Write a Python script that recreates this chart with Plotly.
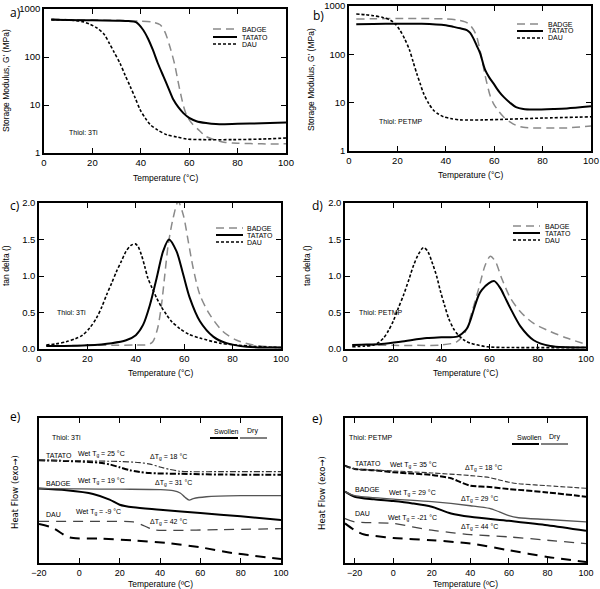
import plotly.graph_objects as go

W, H = 600, 589
FONT = "Liberation Sans, Arial, sans-serif"

def px(x):
    return x / W

def py(y):
    return 1 - y / H

# ---------------- data ----------------
# a) storage modulus, thiol 3Ti
a_T_badge = [3, 10, 20, 30, 40, 45, 48, 50, 52, 54, 55, 56, 57.7, 59, 61, 64, 67, 71, 75, 80, 90, 100]
a_G_badge = [620, 600, 590, 580, 560, 530, 470, 330, 165, 70, 39, 22, 9.3, 6, 4.2, 3, 2.2, 1.85, 1.66, 1.6, 1.55, 1.55]
a_T_tatato = [3, 10, 20, 30, 35, 38, 41, 43, 45, 47, 49.4, 51.5, 53.5, 55.5, 57.7, 60, 63, 67, 71, 80, 90, 100]
a_G_tatato = [600, 590, 580, 570, 560, 530, 365, 240, 140, 75, 39, 22, 12.8, 9, 6.7, 5.4, 4.6, 4.2, 4.0, 4.05, 4.15, 4.3]
a_T_dau = [3, 10, 16, 19, 22, 25, 27, 29, 31.4, 33.5, 35.6, 37.7, 39.7, 42, 43.9, 47, 50.8, 55, 59, 65, 78, 90, 100]
a_G_dau = [600, 590, 545, 480, 400, 290, 193, 125, 74, 42, 24.5, 14, 8, 5.2, 3.9, 3.0, 2.4, 2.15, 1.95, 1.9, 1.9, 1.95, 2.05]

# b) storage modulus, thiol PETMP
b_T_badge = [3, 10, 20, 30, 40, 45, 48, 50, 51.5, 52.8, 54, 55, 56, 57, 58.3, 59.7, 62, 64, 66.5, 69, 72, 76, 85, 90, 100]
b_G_badge = [537, 545, 550, 550, 540, 513, 470, 405, 320, 230, 130, 76, 42, 25, 14, 9.6, 6.5, 5, 4, 3.4, 3.1, 3.0, 3.0, 3.0, 3.3]
b_T_tatato = [3, 10, 20, 30, 40, 43, 46, 48.7, 50, 51.4, 52.8, 54.2, 55.5, 56.3, 58, 59.7, 62, 64, 66.5, 69, 72, 76, 85, 90, 100]
b_G_tatato = [417, 425, 430, 430, 400, 372, 345, 318, 280, 214, 150, 105, 62, 47, 33, 25, 17, 13, 10, 8.1, 7.4, 7.2, 7.4, 7.6, 8.4]
b_T_dau = [3, 7, 10, 14, 17, 19, 21, 23, 25, 26.5, 28, 29.5, 30.8, 33, 35, 37, 39, 42, 46, 55, 62.5, 80, 100]
b_G_dau = [683, 660, 630, 580, 513, 430, 318, 210, 123, 70, 40, 24, 15.6, 9.5, 6.9, 5.8, 5.1, 4.7, 4.4, 4.4, 4.5, 4.8, 5.1]

# c) tan delta, thiol 3Ti
c_T_badge = [3, 10, 20, 30, 40, 45, 47, 49, 50.6, 52, 53.4, 55.4, 57.5, 59.6, 61.7, 63.7, 66.5, 70.6, 76, 81.7, 88.6, 95, 100]
c_tan_badge = [0.045, 0.045, 0.05, 0.05, 0.055, 0.06, 0.1, 0.28, 0.6, 1.02, 1.43, 1.79, 2.02, 1.84, 1.47, 1.11, 0.74, 0.47, 0.24, 0.12, 0.055, 0.03, 0.02]
c_T_tatato = [3, 10, 20, 30, 36, 40, 43, 45.8, 48.6, 51.3, 53.7, 56.8, 59.6, 62.3, 66.5, 72, 77.5, 85.8, 100]
c_tan_tatato = [0.04, 0.04, 0.05, 0.08, 0.12, 0.19, 0.33, 0.6, 0.97, 1.34, 1.5, 1.34, 1.02, 0.7, 0.38, 0.17, 0.08, 0.03, 0.02]
c_T_dau = [3, 7, 11.3, 15, 18, 21, 23.7, 26, 27.9, 30, 32, 34, 36, 38, 39.8, 41, 42.3, 43.7, 45, 46.8, 48.6, 50.5, 52.7, 55, 58.2, 62, 66.5, 74.8, 87, 100]
c_tan_dau = [0.055, 0.07, 0.1, 0.14, 0.19, 0.29, 0.42, 0.58, 0.74, 0.9, 1.06, 1.2, 1.34, 1.42, 1.44, 1.4, 1.29, 1.13, 0.97, 0.83, 0.7, 0.58, 0.47, 0.37, 0.28, 0.2, 0.15, 0.08, 0.04, 0.02]

# d) tan delta, thiol PETMP
d_T_badge = [3, 10, 20, 30, 40, 46.5, 50, 52.7, 55.5, 58.2, 60.3, 62.4, 65, 68.6, 72.8, 78.3, 85.2, 92, 100]
d_tan_badge = [0.055, 0.055, 0.05, 0.05, 0.055, 0.1, 0.24, 0.51, 0.83, 1.15, 1.27, 1.2, 0.97, 0.7, 0.51, 0.35, 0.24, 0.15, 0.064]
d_T_tatato = [3, 9, 15, 23, 34, 40, 46.5, 48.5, 50.6, 52.3, 54, 55.5, 56.8, 59.6, 62, 64.5, 66.5, 68.6, 72.8, 78.3, 85.2, 100]
d_tan_tatato = [0.055, 0.06, 0.07, 0.1, 0.15, 0.16, 0.17, 0.21, 0.28, 0.42, 0.6, 0.74, 0.81, 0.9, 0.93, 0.83, 0.7, 0.56, 0.31, 0.12, 0.04, 0.02]
d_T_dau = [3, 8, 12, 14, 16, 18, 20, 22, 24.3, 26.5, 28.5, 30.5, 32.6, 34.3, 36, 38, 39.6, 41.3, 43, 45, 47, 49.5, 52, 59, 70, 100]
d_tan_dau = [0.03, 0.04, 0.055, 0.09, 0.15, 0.25, 0.38, 0.55, 0.74, 0.95, 1.15, 1.3, 1.39, 1.34, 1.2, 1.0, 0.79, 0.6, 0.42, 0.28, 0.19, 0.12, 0.08, 0.03, 0.02, 0.02]

# e) DSC heat flow (arbitrary units), thiol 3Ti
e1_T_tatato_sw = [-20, -10, 0, 10, 15, 20, 25, 30, 35, 50, 70, 100]
e1_hf_tatato_sw = [7.08, 7.05, 7.0, 6.92, 6.8, 6.6, 6.4, 6.27, 6.2, 6.15, 6.1, 6.09]
e1_T_tatato_dry = [-20, 0, 20, 30, 35, 40, 45, 50, 55, 70, 100]
e1_hf_tatato_dry = [7.1, 7.05, 7.0, 6.92, 6.82, 6.62, 6.45, 6.33, 6.3, 6.3, 6.3]
e1_T_badge_sw = [-20, -6.4, 6.8, 15, 20, 26.7, 40, 60, 80, 100]
e1_hf_badge_sw = [5.13, 5.01, 4.76, 4.37, 4.02, 3.84, 3.68, 3.45, 3.22, 2.97]
e1_T_badge_dry = [-20, 0, 20, 40, 46.5, 50, 52.4, 54.5, 56.5, 63, 80, 100]
e1_hf_badge_dry = [5.13, 5.11, 5.09, 5.06, 4.99, 4.83, 4.53, 4.34, 4.44, 4.57, 4.64, 4.64]
e1_T_dau_sw = [-20, -13, -6.4, -3, 10, 26.7, 43, 60, 76, 100]
e1_hf_dau_sw = [2.69, 2.41, 1.84, 1.72, 1.68, 1.56, 1.38, 1.08, 0.69, 0.28]
e1_T_dau_dry = [-20, 10, 26.7, 31.6, 36.6, 43, 70, 100]
e1_hf_dau_dry = [2.87, 2.87, 2.83, 2.6, 2.3, 2.25, 2.3, 2.37]

# e) DSC heat flow (arbitrary units), thiol PETMP
e2_T_tatato_sw = [-25, -20, -10, 0, 10, 20, 30, 35, 40, 50, 60, 80, 100]
e2_hf_tatato_sw = [6.72, 6.49, 6.4, 6.26, 6.17, 6.07, 5.84, 5.57, 5.33, 5.24, 5.1, 4.87, 4.57]
e2_T_tatato_dry = [-25, -20, 0, 20, 40, 50, 55, 60, 65, 80, 100]
e2_hf_tatato_dry = [6.67, 6.49, 6.35, 6.21, 6.03, 5.89, 5.73, 5.57, 5.47, 5.33, 5.15]
e2_T_badge_sw = [-25, -20, -10, 0, 10, 20, 30, 40, 60, 80, 100]
e2_hf_badge_sw = [4.92, 4.57, 4.39, 4.27, 4.11, 3.88, 3.42, 3.19, 2.91, 2.61, 2.22]
e2_T_badge_dry = [-25, -20, 0, 20, 40, 50, 55, 60, 65, 80, 100]
e2_hf_badge_dry = [4.92, 4.64, 4.41, 4.23, 3.95, 3.76, 3.53, 3.26, 3.12, 3.0, 2.84]
e2_T_dau_sw = [-25, -20, -15, -10, 0, 20, 40, 60, 80, 100]
e2_hf_dau_sw = [2.73, 2.26, 1.96, 1.87, 1.73, 1.57, 1.34, 0.88, 0.42, 0.07]
e2_T_dau_dry = [-25, -20, 0, 10, 20, 30, 40, 60, 80, 100]
e2_hf_dau_dry = [3.07, 2.84, 2.73, 2.49, 2.26, 2.1, 1.96, 1.8, 1.57, 1.34]

series_names = ["BADGE", "TATATO", "DAU"]
temp_ticks_ad = [0, 20, 40, 60, 80, 100]
temp_ticks_e = [-20, 0, 20, 40, 60, 80, 100]
log_ticks = [1, 10, 100, 1000]
log_ticklabels = ["1", "10", "100", "1000"]

# ---------------- styles ----------------
STY = {
    "BADGE": dict(color="#8a8a8a", width=1.5, dash="8px,5px"),
    "TATATO": dict(color="black", width=2.0, dash="solid"),
    "DAU": dict(color="black", width=1.6, dash="3px,2px"),
}

fig = go.Figure()

def add(ax, x, y, line):
    n = "" if ax == 1 else str(ax)
    fig.add_trace(go.Scatter(x=x, y=y, mode="lines", line=dict(shape="spline", smoothing=0.8, **line),
                             xaxis="x" + n, yaxis="y" + n, showlegend=False, hoverinfo="skip"))

add(1, a_T_badge, a_G_badge, STY["BADGE"])
add(1, a_T_tatato, a_G_tatato, STY["TATATO"])
add(1, a_T_dau, a_G_dau, STY["DAU"])
add(2, b_T_badge, b_G_badge, STY["BADGE"])
add(2, b_T_tatato, b_G_tatato, STY["TATATO"])
add(2, b_T_dau, b_G_dau, STY["DAU"])
add(3, c_T_badge, c_tan_badge, STY["BADGE"])
add(3, c_T_tatato, c_tan_tatato, STY["TATATO"])
add(3, c_T_dau, c_tan_dau, STY["DAU"])
add(4, d_T_badge, d_tan_badge, STY["BADGE"])
add(4, d_T_tatato, d_tan_tatato, STY["TATATO"])
add(4, d_T_dau, d_tan_dau, STY["DAU"])

SW, DRY = 2.0, 1.1
add(5, e1_T_tatato_sw, e1_hf_tatato_sw, dict(color="black", width=SW, dash="6px,2px,2px,2px"))
add(5, e1_T_tatato_dry, e1_hf_tatato_dry, dict(color="#333", width=DRY, dash="6px,2px,2px,2px"))
add(5, e1_T_badge_sw, e1_hf_badge_sw, dict(color="black", width=SW, dash="solid"))
add(5, e1_T_badge_dry, e1_hf_badge_dry, dict(color="#555", width=DRY + 0.2, dash="solid"))
add(5, e1_T_dau_sw, e1_hf_dau_sw, dict(color="black", width=SW, dash="10px,7px"))
add(5, e1_T_dau_dry, e1_hf_dau_dry, dict(color="#444", width=DRY + 0.2, dash="10px,7px"))

add(6, e2_T_tatato_sw, e2_hf_tatato_sw, dict(color="black", width=SW, dash="6px,2px"))
add(6, e2_T_tatato_dry, e2_hf_tatato_dry, dict(color="#333", width=DRY, dash="5px,2px"))
add(6, e2_T_badge_sw, e2_hf_badge_sw, dict(color="black", width=SW, dash="solid"))
add(6, e2_T_badge_dry, e2_hf_badge_dry, dict(color="#555", width=DRY + 0.2, dash="solid"))
add(6, e2_T_dau_sw, e2_hf_dau_sw, dict(color="black", width=SW, dash="10px,7px"))
add(6, e2_T_dau_dry, e2_hf_dau_dry, dict(color="#444", width=DRY + 0.2, dash="10px,7px"))

# ---------------- axes ----------------
boxes = {
    1: ((44, 286), (9, 153)),
    2: ((349, 591), (6, 151)),
    3: ((39, 281), (203, 349)),
    4: ((345, 586), (203, 349)),
    5: ((39, 281), (418, 563)),
    6: ((345, 586), (418, 563)),
}

base = dict(showline=True, linecolor="black", linewidth=1.5, mirror="allticks", ticks="inside",
            ticklen=5, tickwidth=1.3, tickcolor="black", showgrid=False, zeroline=False,
            automargin=False, tickfont=dict(family=FONT, size=9.5, color="black"))

layout = {}
for i, ((x0, x1), (y0, y1)) in boxes.items():
    n = "" if i == 1 else str(i)
    xa = dict(base, domain=[px(x0), px(x1)], anchor="y" + n)
    ya = dict(base, domain=[py(y1), py(y0)], anchor="x" + n)
    if i <= 4:
        xa.update(range=[0, 100], tickvals=temp_ticks_ad)
    else:
        xa.update(range=[-20 if i == 5 else -25, 100], tickvals=temp_ticks_e,
                  tickfont=dict(family=FONT, size=9, color="black"))
    if i <= 2:
        ya.update(type="log", range=[0, 3], tickvals=log_ticks, ticktext=log_ticklabels)
    elif i <= 4:
        ya.update(range=[0, 2.0], tickvals=[0, 0.5, 1.0, 1.5, 2.0], ticktext=["0.0", "0.5", "1.0", "1.5", "2.0"])
    else:
        ya.update(range=[0, 10], ticks="", showticklabels=False, mirror=True)
        xa.update(mirror="allticks")
    layout["xaxis" + n] = xa
    layout["yaxis" + n] = ya

fig.update_layout(**layout)

# ---------------- annotations & legends ----------------
ann = []
shapes = []

def text(x, y, s, size=7.5, xanchor="left", angle=0, family=FONT, yanchor="middle"):
    ann.append(dict(x=px(x), y=py(y), xref="paper", yref="paper", text=s, showarrow=False,
                    xanchor=xanchor, yanchor=yanchor, textangle=angle,
                    font=dict(family=family, size=size, color="black")))

def seg(x0, x1, y, line):
    shapes.append(dict(type="line", xref="paper", yref="paper", x0=px(x0), x1=px(x1), y0=py(y), y1=py(y),
                       line=line))

# panel labels
for lab, (x, y) in {"a)": (8, 13), "b)": (311, 15), "c)": (8, 205), "d)": (310, 205)}.items():
    text(x, y, lab, size=12, family="Open Sans, sans-serif")
text(8, 416, "e)", size=12, family="Open Sans, sans-serif")
text(310, 418, "e)", size=12, family="Open Sans, sans-serif")

# legends a-d
legs = [((213, 237), (29, 37, 44), 240), ((517, 543), (24, 31, 38), 546),
        ((216, 243), (228, 235, 242), 245), ((513, 540), (226, 233, 240), 543)]
for (lx0, lx1), ys, tx in legs:
    for name, yy in zip(series_names, ys):
        st = STY[name]
        seg(lx0, lx1, yy, dict(color=st["color"], width=st["width"], dash=st["dash"]))
        text(tx, yy, name, size=7)

# thiol labels
text(67, 132, "Thiol: 3Ti", size=7)
text(377, 122, "Thiol: PETMP", size=7)
text(55, 312, "Thiol: 3Ti", size=7)
text(357, 312, "Thiol: PETMP", size=7)

# axis titles
text(6, 81, "Storage Modulus, G' (MPa)", size=8.5, xanchor="center", angle=-90)
text(311, 80, "Storage Modulus, G' (MPa)", size=8.5, xanchor="center", angle=-90)
text(6, 266, "tan delta ()", size=8.5, xanchor="center", angle=-90)
text(307, 266, "tan delta ()", size=8.5, xanchor="center", angle=-90)
text(15, 492, "Heat Flow (exo\u2192)", size=8.5, xanchor="center", angle=-90, family="DejaVu Sans, sans-serif")
text(322, 493, "Heat Flow (exo\u2192)", size=8.5, xanchor="center", angle=-90, family="DejaVu Sans, sans-serif")
text(165, 178, "Temperature (°C)", size=8.5, xanchor="center")
text(470, 175, "Temperature (°C)", size=8.5, xanchor="center")
text(160, 373, "Temperature (°C)", size=8.5, xanchor="center")
text(465, 373, "Temperature (°C)", size=8.5, xanchor="center")
text(160, 583.5, "Temperature (ºC)", size=8.5, xanchor="center")
text(465, 583.5, "Temperature (ºC)", size=8.5, xanchor="center")

# DSC annotations (pixel positions)
dsc_left = [(50, 437, "Thiol: 3Ti"), (44, 455, "TATATO"), (76, 454, "Wet T<sub>g</sub> = 25 °C"),
            (148, 457, "ΔT<sub>g</sub> = 18 °C"), (44, 483, "BADGE"), (76, 481, "Wet T<sub>g</sub> = 19 °C"),
            (153, 483, "ΔT<sub>g</sub> = 31 °C"), (44, 514, "DAU"), (74, 512, "Wet T<sub>g</sub> = -9 °C"),
            (148, 522, "ΔT<sub>g</sub> = 42 °C"), (212, 431, "Swollen"), (245, 431, "Dry")]
dsc_right = [(347, 437, "Thiol: PETMP"), (353, 463, "TATATO"), (388, 465, "Wet T<sub>g</sub> = 35 °C"),
             (463, 468, "ΔT<sub>g</sub> = 18 °C"), (353, 489, "BADGE"), (387, 493, "Wet T<sub>g</sub> = 29 °C"),
             (459, 499, "ΔT<sub>g</sub> = 29 °C"), (353, 513, "DAU"), (386, 518, "Wet T<sub>g</sub> = -21 °C"),
             (459, 527, "ΔT<sub>g</sub> = 44 °C"), (515, 437, "Swollen"), (547, 437, "Dry")]
for x, y, s in dsc_left + dsc_right:
    text(x, y, s, size=7)

seg(210, 238, 438, dict(color="black", width=2))
seg(240, 267, 438, dict(color="black", width=1))
seg(512, 539, 444, dict(color="black", width=2))
seg(541, 568, 444, dict(color="black", width=1))

fig.update_layout(annotations=ann, shapes=shapes, width=W, height=H,
                  margin=dict(l=0, r=0, t=0, b=0, autoexpand=False), paper_bgcolor="white",
                  plot_bgcolor="white", font=dict(family=FONT, color="black"), showlegend=False)

fig.write_html("out.html", config={"displayModeBar": False},
               post_script="document.body.style.margin='0';document.body.style.overflow='hidden';")
